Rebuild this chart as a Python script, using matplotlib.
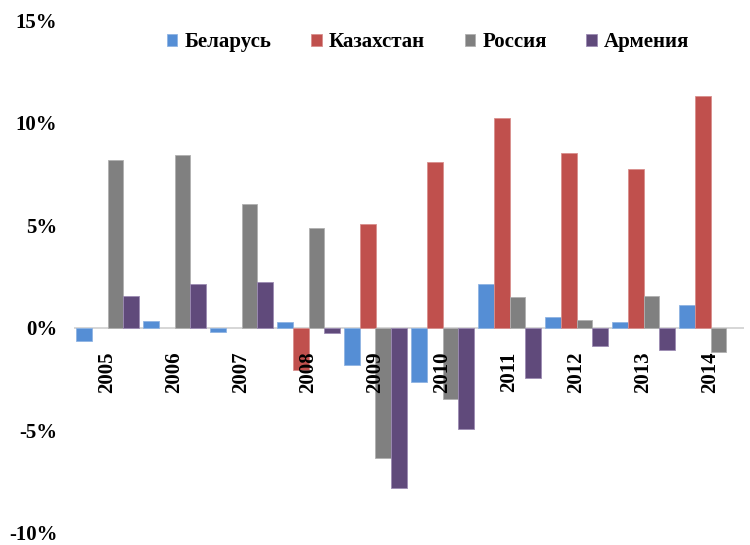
import matplotlib
matplotlib.use("Agg")
import matplotlib.pyplot as plt
import numpy as np
from matplotlib.ticker import FuncFormatter

years = ["2005", "2006", "2007", "2008", "2009", "2010", "2011", "2012", "2013", "2014"]
series_names = ["Беларусь", "Казахстан", "Россия", "Армения"]
belarus = [-0.62, 0.33, -0.2, 0.3, -1.8, -2.62, 2.15, 0.55, 0.28, 1.09]
kazakhstan = [None, None, None, -2.08, 5.07, 8.1, 10.24, 8.5, 7.76, 11.3]
russia = [8.2, 8.44, 6.05, 4.88, -6.36, -3.46, 1.5, 0.4, 1.55, -1.19]
armenia = [1.56, 2.15, 2.23, -0.26, -7.8, -4.93, -2.44, -0.89, -1.1, None]
colors = ["#558ED5", "#C0504D", "#808080", "#604A7B"]
edge_colors = ["#8FB4E3", "#D98F8D", "#B0B0B0", "#9C8BB3"]

plt.rcParams['font.family'] = ['Liberation Serif', 'DejaVu Serif']
plt.rcParams['font.weight'] = 'bold'

fig = plt.figure(figsize=(7.5, 5.45), dpi=100)
top_px, bot_px = 20, 533
ax = fig.add_axes([74/750, 1-bot_px/545, 670/750, (bot_px-top_px)/545])

x = np.arange(len(years))
w = 0.235
data = [belarus, kazakhstan, russia, armenia]
for i, (name, vals, c, ec) in enumerate(zip(series_names, data, colors, edge_colors)):
    v = np.array([np.nan if a is None else a for a in vals], dtype=float)
    ax.bar(x + (i - 1.5) * w, v, width=w, color=c, edgecolor=ec, linewidth=0.6,
           label=name, zorder=2)

ax.set_xlim(-0.5, len(years) - 0.5)
ax.set_ylim(-10, 15)
ax.set_yticks([-10, -5, 0, 5, 10, 15])
ax.yaxis.set_major_formatter(FuncFormatter(lambda v, p: f"{int(v)}%"))
ax.tick_params(axis='y', length=0, pad=12, labelsize=15)
for lab in ax.get_yticklabels():
    lab.set_fontweight('bold')
ax.set_xticks([])
for s in ax.spines.values():
    s.set_visible(False)
ax.axhline(0, color="#D0D0D0", lw=1.2, zorder=1)

for xi, yr in zip(x, years):
    ax.text(xi, -1.15, yr, rotation=90, ha='center', va='top', fontsize=15, fontweight='bold')

leg = fig.legend(loc='center', bbox_to_anchor=(0.571, 1-42/545), ncol=4, frameon=False,
                 handlelength=0.5, handleheight=0.5, handletextpad=0.35, columnspacing=1.9,
                 prop={'size': 15, 'weight': 'bold'})

fig.savefig("out.png", dpi=100)
